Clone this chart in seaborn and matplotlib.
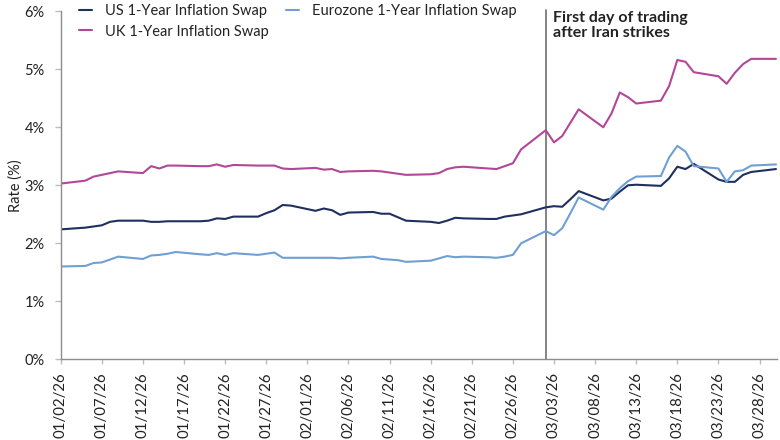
import matplotlib
matplotlib.use("Agg")
import matplotlib.pyplot as plt
import seaborn as sns
import pandas as pd
from matplotlib.lines import Line2D

dates = [
    "2026-01-02", "2026-01-05", "2026-01-06", "2026-01-07", "2026-01-08", "2026-01-09",
    "2026-01-12", "2026-01-13", "2026-01-14", "2026-01-15", "2026-01-16",
    "2026-01-19", "2026-01-20", "2026-01-21", "2026-01-22", "2026-01-23",
    "2026-01-26", "2026-01-27", "2026-01-28", "2026-01-29", "2026-01-30",
    "2026-02-02", "2026-02-03", "2026-02-04", "2026-02-05", "2026-02-06",
    "2026-02-09", "2026-02-10", "2026-02-11", "2026-02-12", "2026-02-13",
    "2026-02-16", "2026-02-17", "2026-02-18", "2026-02-19", "2026-02-20",
    "2026-02-23", "2026-02-24", "2026-02-25", "2026-02-26", "2026-02-27",
    "2026-03-02", "2026-03-03", "2026-03-04", "2026-03-05", "2026-03-06",
    "2026-03-09", "2026-03-10", "2026-03-11", "2026-03-12", "2026-03-13",
    "2026-03-16", "2026-03-17", "2026-03-18", "2026-03-19", "2026-03-20",
    "2026-03-23", "2026-03-24", "2026-03-25", "2026-03-26", "2026-03-27",
    "2026-03-30",
]

us_swap = [
    2.24, 2.27, 2.29, 2.31, 2.37, 2.39,
    2.39, 2.37, 2.37, 2.38, 2.38,
    2.38, 2.39, 2.43, 2.42, 2.46,
    2.46, 2.52, 2.57, 2.66, 2.65,
    2.56, 2.60, 2.57, 2.49, 2.53,
    2.54, 2.51, 2.51, 2.45, 2.39,
    2.37, 2.35, 2.39, 2.44, 2.43,
    2.42, 2.42, 2.46, 2.48, 2.50,
    2.62, 2.64, 2.63, 2.76, 2.90,
    2.74, 2.77, 2.89, 3.00, 3.01,
    2.99, 3.12, 3.32, 3.28, 3.37,
    3.10, 3.06, 3.06, 3.18, 3.23,
    3.28,
]

uk_swap = [
    3.03, 3.08, 3.15, 3.18, 3.21, 3.24,
    3.21, 3.33, 3.29, 3.34, 3.34,
    3.33, 3.33, 3.36, 3.32, 3.35,
    3.34, 3.34, 3.34, 3.29, 3.28,
    3.30, 3.27, 3.28, 3.23, 3.24,
    3.25, 3.24, 3.22, 3.20, 3.18,
    3.19, 3.21, 3.28, 3.31, 3.32,
    3.29, 3.28, 3.33, 3.38, 3.62,
    3.95, 3.74, 3.85, 4.08, 4.31,
    4.00, 4.24, 4.60, 4.52, 4.41,
    4.46, 4.71, 5.16, 5.13, 4.95,
    4.88, 4.75, 4.94, 5.09, 5.18,
    5.18,
]

ez_swap = [
    1.60, 1.61, 1.66, 1.67, 1.72, 1.77,
    1.73, 1.79, 1.80, 1.82, 1.85,
    1.81, 1.80, 1.83, 1.80, 1.83,
    1.80, 1.82, 1.84, 1.75, 1.75,
    1.75, 1.75, 1.75, 1.74, 1.75,
    1.77, 1.73, 1.72, 1.71, 1.68,
    1.70, 1.74, 1.78, 1.76, 1.77,
    1.76, 1.75, 1.77, 1.80, 2.00,
    2.21, 2.14, 2.26, 2.52, 2.79,
    2.58, 2.80, 2.95, 3.07, 3.15,
    3.16, 3.48, 3.68, 3.58, 3.33,
    3.29, 3.06, 3.24, 3.26, 3.34,
    3.36,
]

series_names = ["US 1-Year Inflation Swap", "Eurozone 1-Year Inflation Swap", "UK 1-Year Inflation Swap"]
series_colors = ["#1f2f5e", "#6f9fd3", "#b24798"]
event_date = "2026-03-02"
event_label = "First day of trading\nafter Iran strikes"
y_ticks = [0, 1, 2, 3, 4, 5, 6]

sns.set_theme(style="white")
plt.rcParams["font.family"] = ["Lato", "DejaVu Sans"]

d = pd.to_datetime(dates)
df = pd.concat([
    pd.DataFrame({"Date": d, "Rate": us_swap, "Series": series_names[0]}),
    pd.DataFrame({"Date": d, "Rate": ez_swap, "Series": series_names[1]}),
    pd.DataFrame({"Date": d, "Rate": uk_swap, "Series": series_names[2]}),
])

fig = plt.figure(figsize=(7.8, 4.4), dpi=100)
ax = fig.add_axes([60.7 / 780, 1 - 359.3 / 440, (777 - 60.7) / 780, (359.3 - 11.3) / 440])

sns.lineplot(data=df, x="Date", y="Rate", hue="Series", hue_order=series_names,
             palette=dict(zip(series_names, series_colors)), linewidth=1.5, ax=ax, legend=False)

ax.set_ylim(0, 6)
ax.set_xlim(pd.Timestamp("2026-01-02"), pd.Timestamp("2026-03-30 03:00"))
ax.set_yticks(y_ticks)
ax.set_yticklabels([f"{v}%" for v in y_ticks], fontsize=10.5, color="#222222")

xt = pd.date_range("2026-01-02", "2026-03-28", freq="5D")
ax.set_xticks(xt)
ax.set_xticklabels([t.strftime("%m/%d/%y") for t in xt], rotation=90, fontsize=10.8, color="#222222")
ax.set_xlabel("")
ax.set_ylabel("Rate (%)", fontsize=10.5, color="#222222", labelpad=1)

for s in ["top", "right"]:
    ax.spines[s].set_visible(False)
for s in ["left", "bottom"]:
    ax.spines[s].set_color("#8c8c8c")
    ax.spines[s].set_linewidth(1.0)
ax.tick_params(axis="y", length=4.5, width=1, color="#bdbdbd", direction="out", left=True, pad=7)
ax.tick_params(axis="x", length=3.5, width=1, color="#bdbdbd", direction="out", bottom=True, pad=6)

ev = pd.Timestamp(event_date)
ax.axvline(ev, ymin=0, ymax=1.005, color="#7a7a7a", linewidth=1.3, clip_on=False, zorder=1)
ax.text(ev + pd.Timedelta(days=0.9), 6.01, event_label, fontsize=11.5, fontweight="bold",
        color="#222222", va="top", ha="left", linespacing=1.1)

order = [0, 2, 1]
handles = [Line2D([0], [0], color=series_colors[i], linewidth=1.5) for i in order]
labels = [series_names[i] for i in order]
fig.legend(handles, labels, loc="upper left", bbox_to_anchor=(79 / 780, 1 - 4 / 440),
           ncol=2, frameon=False, fontsize=10.5, handlelength=0.9, handletextpad=0.9,
           columnspacing=1.15, borderpad=0, borderaxespad=0, labelspacing=0.45,
           labelcolor="#222222")

fig.savefig("out.png", dpi=100)
